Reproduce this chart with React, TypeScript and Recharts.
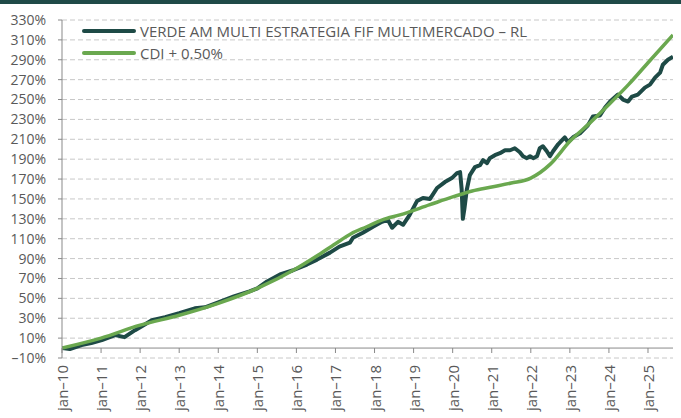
import { LineChart, Line, XAxis, YAxis, CartesianGrid, ReferenceLine } from "recharts";

const FUND_NAME = "VERDE AM MULTI ESTRATEGIA FIF MULTIMERCADO – RL";
const CDI_NAME = "CDI + 0.50%";

const DARK = "#1e4a46";
const GREEN = "#6aa84f";
const TEXT = "#595959";
const FONT = "'Open Sans', sans-serif";

// fund (decimal years)
const fundYears = [
    2010.0, 2010.2, 2010.5, 2010.75, 2011.02, 2011.36, 2011.6, 2011.87, 2012.0, 2012.3,
    2012.64, 2013.0, 2013.4, 2013.66, 2014.0, 2014.4, 2014.8, 2015.0, 2015.25, 2015.58,
    2015.9, 2016.27, 2016.53, 2016.86, 2017.1, 2017.37, 2017.45, 2017.7, 2017.96, 2018.19,
    2018.34, 2018.45, 2018.6, 2018.73, 2018.9, 2019.09, 2019.24, 2019.42, 2019.6, 2019.8,
    2019.98, 2020.11, 2020.19, 2020.23, 2020.26, 2020.3, 2020.36, 2020.44, 2020.57, 2020.7,
    2020.78, 2020.88, 2020.95, 2021.08, 2021.21, 2021.34, 2021.47, 2021.59, 2021.72, 2021.8,
    2021.9, 2021.98, 2022.06, 2022.16, 2022.23, 2022.31, 2022.41, 2022.49, 2022.57, 2022.7,
    2022.82, 2022.87, 2022.95, 2023.08, 2023.26, 2023.46, 2023.59, 2023.77, 2023.9, 2024.03,
    2024.23, 2024.36, 2024.49, 2024.59, 2024.74, 2024.92, 2025.05, 2025.18, 2025.31, 2025.38,
    2025.51, 2025.64,
];
const fundValues = [
    0, -1, 3, 5, 8, 13, 11, 18, 21, 28,
    31, 35, 40, 41, 46, 52, 57, 60, 67, 74,
    78, 84, 89, 96, 102, 106, 111, 116, 122, 127,
    129, 121, 127, 124, 134, 148, 151, 150, 161, 167,
    171, 176, 177, 160, 130, 140, 159, 174, 182, 184,
    189, 186, 191, 194, 196, 199, 199, 201, 197, 193,
    191, 193, 191, 193, 201, 203, 198, 193, 198, 205,
    210, 212, 207, 212, 216, 224, 233, 234, 242, 248,
    255, 250, 248, 253, 255, 262, 265, 272, 277, 285,
    290, 293,
];

// benchmark
const cdiYears = [
    2010, 2011, 2012, 2013, 2014, 2015, 2016, 2016.5, 2017, 2017.4, 2017.8, 2018.2, 2018.65,
    2019.4, 2020, 2020.5, 2021, 2021.5, 2022, 2022.5, 2023, 2023.5, 2024, 2024.5, 2025, 2025.64,
];
const cdiValues = [
    0, 10, 23, 33, 45, 60, 80, 92, 105, 115, 122, 129, 134,
    144, 152, 158, 162, 166, 171, 185, 208, 226, 245, 265, 287, 315,
];

const xTicks = [2010, 2011, 2012, 2013, 2014, 2015, 2016, 2017, 2018, 2019, 2020, 2021, 2022, 2023, 2024, 2025];
const yTicks = [-10, 10, 30, 50, 70, 90, 110, 130, 150, 170, 190, 210, 230, 250, 270, 290, 310, 330];

const fundData = fundYears.map((t, i) => ({ t, v: fundValues[i] }));
const cdiData = cdiYears.map((t, i) => ({ t, v: cdiValues[i] }));

const fmtPct = (v: number) => (v < 0 ? `–${Math.abs(v)}%` : `${v}%`);

function XTick({ x, y, payload }: any) {
    const label = `jan–${String(payload.value).slice(2)}`;
    return (
        <g>
            <line x1={x} x2={x} y1={y - 10} y2={y - 5} stroke="#898989" />
            <text
                x={x}
                y={y + 7}
                transform={`rotate(-90 ${x} ${y + 7})`}
                textAnchor="end"
                dominantBaseline="central"
                fill={TEXT}
                fontSize={15}
                fontFamily={FONT}
            >
                {label}
            </text>
        </g>
    );
}

function LegendBox() {
    const rows = [
        { name: FUND_NAME, color: DARK },
        { name: CDI_NAME, color: GREEN },
    ];
    return (
        <div style={{ position: "absolute", left: 82, top: 20, fontFamily: FONT, fontSize: 15, color: TEXT, lineHeight: "22px" }}>
            {rows.map((r) => (
                <div key={r.name} style={{ display: "flex", alignItems: "center", height: 22 }}>
                    <div style={{ width: 54, height: 4, background: r.color, borderRadius: 2, marginRight: 4 }} />
                    <span>{r.name}</span>
                </div>
            ))}
        </div>
    );
}

export default function App() {
    return (
        <div style={{ position: "absolute", left: 0, top: 0, width: 681, height: 418, background: "#fff" }}>
            <div style={{ position: "absolute", left: 0, top: 0, width: 681, height: 4, background: "#1f4a48" }} />
            <LineChart width={681} height={418} margin={{ top: 20, right: 8, bottom: 0, left: 0 }}>
                <CartesianGrid vertical={false} stroke="#c8c8c8" strokeDasharray="5 3" />
                <XAxis
                    dataKey="t"
                    type="number"
                    domain={[2010, 2025.64]}
                    ticks={xTicks}
                    allowDataOverflow
                    axisLine={false}
                    tickLine={false}
                    tickSize={0}
                    tickMargin={0}
                    height={60}
                    interval={0}
                    tick={<XTick />}
                />
                <YAxis
                    type="number"
                    domain={[-10, 330]}
                    ticks={yTicks}
                    interval={0}
                    width={62}
                    axisLine={{ stroke: "#898989" }}
                    tickLine={{ stroke: "#898989" }}
                    tickSize={4}
                    tickMargin={12}
                    tickFormatter={fmtPct}
                    tick={{ fill: TEXT, fontSize: 14, fontFamily: FONT }}
                />
                <ReferenceLine y={0} stroke="#898989" />
                <Line
                    data={fundData}
                    dataKey="v"
                    name={FUND_NAME}
                    type="linear"
                    stroke={DARK}
                    strokeWidth={4}
                    strokeLinejoin="round"
                    dot={false}
                    isAnimationActive={false}
                />
                <Line
                    data={cdiData}
                    dataKey="v"
                    name={CDI_NAME}
                    type="monotone"
                    stroke={GREEN}
                    strokeWidth={3.5}
                    dot={false}
                    isAnimationActive={false}
                />
            </LineChart>
            <LegendBox />
        </div>
    );
}
